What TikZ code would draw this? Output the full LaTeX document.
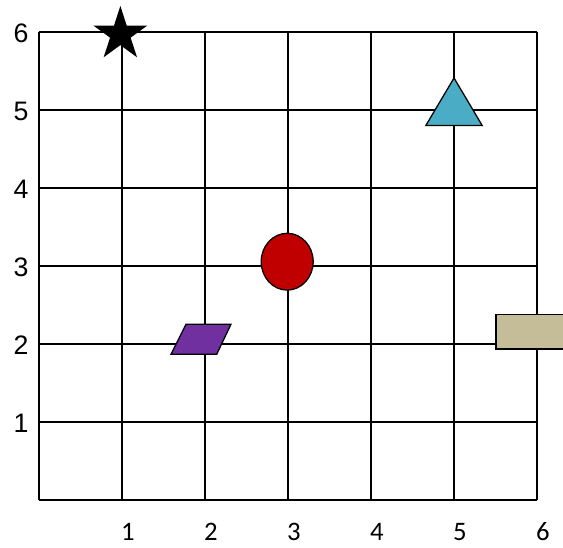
\documentclass[tikz,border=0pt]{standalone}
\usepackage{fontspec}
\setmainfont{Carlito}
\newfontfamily\axisfont{Liberation Sans}
\usepackage{tikz}
\usetikzlibrary{calc}
\definecolor{aquablue}{HTML}{4BACC6}
\definecolor{darkred}{HTML}{C00000}
\definecolor{plum}{HTML}{7030A0}
\definecolor{tan}{HTML}{C4BD97}
\tikzset{gridline/.style={line width=1.4pt},
  shapeline/.style={draw=black,line width=0.9pt,line join=miter},
  xlab/.style={inner sep=0pt,font=\fontsize{19}{19}\selectfont},
  ylab/.style={inner sep=0pt,font=\axisfont\fontsize{19}{19}\selectfont}}

\begin{document}
\begin{tikzpicture}[x=2.075cm,y=1.95cm]
\useasboundingbox (-0.470,-0.615) rectangle (6.313,6.410);
% grid
\foreach \i in {0,...,6}{
  \draw[gridline] (\i,0)--(\i,6);
  \draw[gridline] (0,\i)--(6,\i);}
% axis numbers
\foreach \i in {1,...,6}{
  \node[xlab] (xl\i) at (\i+0.07,-0.41) {\i};
  \node[ylab] (yl\i) at (-0.217,\i-0.02) {\i};}
% star
\begin{scope}[shift={(0.98,5.97)}]
\fill[black] (90:0.71cm)
  \foreach \k in {1,...,9}{ -- ({90+36*\k}:{mod(\k,2)==1 ? 0.27cm : 0.71cm}) } -- cycle;
\end{scope}
% triangle
\draw[shapeline,fill=aquablue] (4.66,4.80)--(5.0,5.41)--(5.34,4.80)--cycle;
% circle
\draw[shapeline,fill=darkred] (2.99,3.055) ellipse [x radius=0.65cm,y radius=0.71cm];
% parallelogram
\draw[shapeline,fill=plum] (1.590,1.868)--(1.771,2.253)--(2.313,2.253)--(2.141,1.868)--cycle;
% rectangle
\draw[shapeline,fill=tan] (6.4,2.381)--(5.506,2.381)--(5.506,1.936)--(6.4,1.936);
\end{tikzpicture}
\end{document}
